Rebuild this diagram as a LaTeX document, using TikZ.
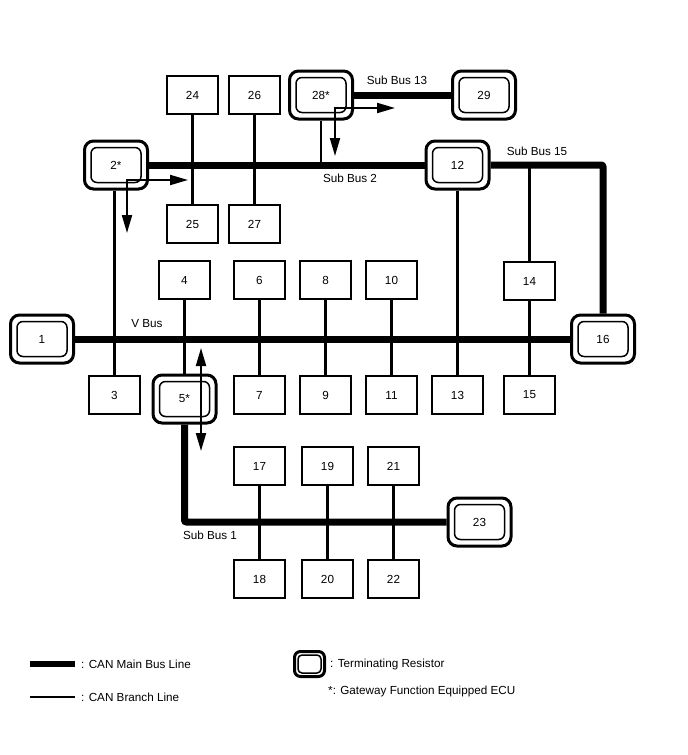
\documentclass[tikz,border=0pt]{standalone}
\usepackage{fontspec}
\setmainfont{Liberation Sans}
\usetikzlibrary{arrows.meta}

\begin{document}
\begin{tikzpicture}[x=1pt,y=-1pt,font=\fontsize{11.7}{14}\selectfont,
  >={Triangle[length=18pt,width=10pt]},
  box/.style={draw,line width=2pt,minimum width=51pt,minimum height=38pt,
              inner sep=0pt,fill=white},
  term/.style={draw,line width=3pt,rounded corners=9pt,minimum width=63pt,
               minimum height=48pt,inner sep=0pt,fill=white},
  termin/.style={line width=1.5pt,rounded corners=6pt},
  bus/.style={line width=7pt},
  branch/.style={line width=2.2pt},
  gw/.style={line width=2pt,<->},
  lbl/.style={inner sep=1pt}]
\useasboundingbox (0,0) rectangle (688,755);

\foreach \n/\x/\y in {24/192.5/95,26/254.5/95,25/192.5/224,27/254.5/224,
    4/184.5/280,6/259.5/280,8/325.5/280,10/391.5/280,14/529.5/281,
    3/114.5/395,7/259.5/395,9/325.5/395,11/391.5/395,13/457.5/395,15/529.5/395,
    17/259.5/466,19/327.5/466,21/393.5/466,18/259.5/579,20/327.5/579,22/393.5/579}
  \node[box] (b\n) at (\x,\y) {\n};

\foreach \n/\t/\x/\y in {1/1/42/339,2/2*/116/165,5/5*/184.5/399,12/12/457.5/165,
    16/16/603/339,23/23/479.5/522,28/28*/321/95,29/29/484/95}
  \node[term] (t\n) at (\x,\y) {\t};
\foreach \n in {1,2,5,12,16,23,28,29}
  \draw[termin] ([shift={(8,8)}]t\n.north west) rectangle ([shift={(-8,-8)}]t\n.south east);

\draw[bus] (t1) -- (t16);
\draw[bus] (t2) -- (t12);
\draw[bus] (t28) -- (t29);
\draw[bus,rounded corners=2pt] (t12.east) -| (t16.north);
\draw[bus,rounded corners=2pt] (t5.south) |- (t23.west);

\foreach \a/\b in {b24/b25,b26/b27,b4/t5,b6/b7,b8/b9,b10/b11,t12/b13,b14/b15,
    b17/b18,b19/b20,b21/b22}
  \draw[branch] (\a) -- (\b);
\draw[branch] (t28) -- (t28 |- t2);
\draw[branch] (b3.north |- t2.south) -- (b3);
\draw[branch] (b14.north |- t12) -- (b14);

\coordinate (g28r) at (395,108);
\coordinate (g28d) at (335,156);
\coordinate (g2r) at (188,180);
\coordinate (g2d) at (127,233);
\coordinate (g5u) at (201,348);
\coordinate (g5d) at (201,451);
\draw[gw] (g28r) -| (g28d);
\draw[gw] (g2r) -| (g2d);
\draw[gw] (g5u) -- (g5d);

\node[lbl] (sb13) at (397,80) {Sub Bus 13};
\node[lbl] (sb2) at (350,178) {Sub Bus 2};
\node[lbl] (sb15) at (537,151) {Sub Bus 15};
\node[lbl] (vbus) at (147,324) {V Bus};
\node[lbl] (sb1) at (210,535) {Sub Bus 1};

\node[lbl,anchor=west] (lgbus) at (80,664) {: CAN Main Bus Line};
\node[lbl,anchor=west] (lgbranch) at (80,697) {: CAN Branch Line};
\draw[bus,line width=6pt] ([xshift=-50pt]lgbus.west) -- ([xshift=-5pt]lgbus.west);
\draw[branch,line width=2.5pt] ([xshift=-50pt]lgbranch.west) -- ([xshift=-5pt]lgbranch.west);
\node[term,minimum width=30pt,minimum height=25pt,rounded corners=6pt] (lgterm) at (309.5,664) {};
\draw[termin,rounded corners=4pt] ([shift={(5,5)}]lgterm.north west) rectangle ([shift={(-5,-5)}]lgterm.south east);
\node[lbl,anchor=west] (lgtermtxt) at (329,664) {: Terminating Resistor};
\node[lbl,anchor=west] (lggw) at (327,691) {*: Gateway Function Equipped ECU};
\end{tikzpicture}
\end{document}
